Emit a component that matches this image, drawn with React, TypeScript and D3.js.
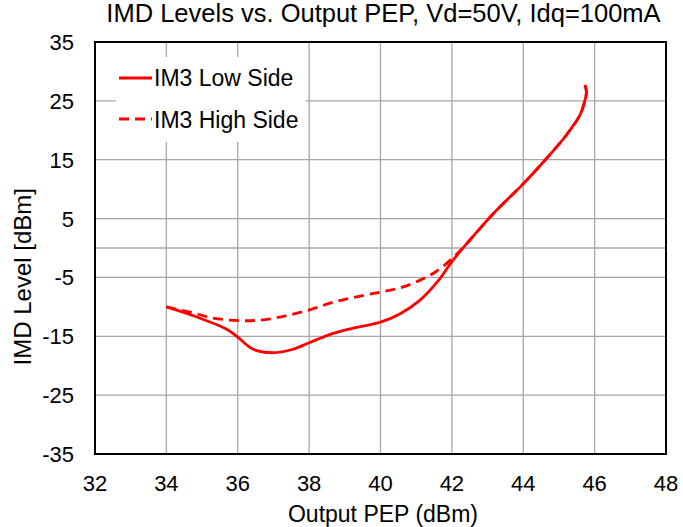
import React from "react";
import * as d3 from "d3";

const xTicks = [32, 34, 36, 38, 40, 42, 44, 46, 48];
const yTicks = [35, 25, 15, 5, -5, -15, -25, -35];

const lowX = [34.0, 34.8, 35.69, 36.01, 36.43, 36.99, 37.55, 38.02, 38.68, 39.33, 40.0, 40.54, 41.1, 41.66, 41.99, 42.41, 42.74, 43.25, 44.0, 44.65, 45.21, 45.59, 45.73, 45.77, 45.73];
const lowY = [-10.0, -11.6, -13.8, -15.2, -17.2, -17.8, -17.2, -16.05, -14.5, -13.5, -12.6, -11.2, -8.9, -5.25, -2.4, 0.7, 3.0, 6.4, 10.9, 15.2, 19.2, 22.6, 25.1, 26.5, 27.7];

const highX = [34.0, 34.66, 35.31, 36.06, 36.71, 37.37, 38.02, 38.68, 39.33, 40.0, 40.54, 41.1, 41.57, 42.04, 42.41, 42.74, 43.25, 44.0, 44.65, 45.21, 45.59, 45.73, 45.77, 45.73];
const highY = [-10.0, -10.9, -11.9, -12.35, -12.2, -11.5, -10.5, -9.2, -8.3, -7.5, -6.8, -5.5, -3.95, -1.6, 0.7, 3.0, 6.4, 10.9, 15.2, 19.2, 22.6, 25.1, 26.5, 27.7];

const W = 683;
const H = 527;
const L = 95, R = 666, T = 42, B = 454;
const FONT = "'Liberation Sans', Arial, sans-serif";

export default function App() {
  const x = d3.scaleLinear().domain([32, 48]).range([L, R]);
  const y = d3.scaleLinear().domain([-35, 35]).range([B, T]);
  const line = d3
    .line<[number, number]>()
    .x((d) => x(d[0]))
    .y((d) => y(d[1]))
    .curve(d3.curveCatmullRom.alpha(0.5));
  const lowPts = lowX.map((v, i) => [v, lowY[i]] as [number, number]);
  const highPts = highX.map((v, i) => [v, highY[i]] as [number, number]);
  const hGrid = [...yTicks.filter((t) => t !== 35 && t !== -35), 0];

  return (
    <div style={{ position: "absolute", left: 0, top: 0 }}>
      <svg width={W} height={H} style={{ display: "block", background: "#fff" }} fontFamily={FONT}>
        <rect x={0} y={0} width={W} height={H} fill="#fff" />
        {xTicks.slice(1, -1).map((t) => (
          <line key={"vx" + t} x1={x(t)} x2={x(t)} y1={T} y2={B} stroke="#a6a6a6" strokeWidth={1.3} />
        ))}
        {hGrid.map((t) => (
          <line key={"hy" + t} x1={L} x2={R} y1={y(t)} y2={y(t)} stroke="#a6a6a6" strokeWidth={1.3} />
        ))}
        {/* legend background */}
        <rect x={116} y={57} width={190} height={85} fill="#fff" />
        <rect x={L} y={T} width={R - L} height={B - T} fill="none" stroke="#000" strokeWidth={2} />
        <path d={line(highPts) || ""} fill="none" stroke="#ff0000" strokeWidth={2.8} strokeDasharray="10,6" />
        <path d={line(lowPts) || ""} fill="none" stroke="#ff0000" strokeWidth={2.8} />
        {yTicks.map((t) => (
          <text key={"yl" + t} x={74} y={y(t) + 8} textAnchor="end" fontSize={22} fill="#000">
            {t}
          </text>
        ))}
        {xTicks.map((t) => (
          <text key={"xl" + t} x={x(t)} y={490.5} textAnchor="middle" fontSize={22} fill="#000">
            {t}
          </text>
        ))}
        <text x={383.5} y={22} textAnchor="middle" fontSize={25.5} fill="#000">
          IMD Levels vs. Output PEP, Vd=50V, Idq=100mA
        </text>
        <text x={383} y={521.5} textAnchor="middle" fontSize={23} fill="#000">
          Output PEP (dBm)
        </text>
        <text transform={`translate(30.5,276.7) rotate(-90)`} textAnchor="middle" fontSize={24} fill="#000">
          IMD Level [dBm]
        </text>
        <line x1={119} x2={152} y1={78} y2={78} stroke="#ff0000" strokeWidth={2.8} />
        <line x1={119} x2={152} y1={119} y2={119} stroke="#ff0000" strokeWidth={2.8} strokeDasharray="10,6" />
        <text x={154} y={86} fontSize={23} fill="#000">IM3 Low Side</text>
        <text x={154} y={128} fontSize={23} fill="#000">IM3 High Side</text>
      </svg>
    </div>
  );
}
